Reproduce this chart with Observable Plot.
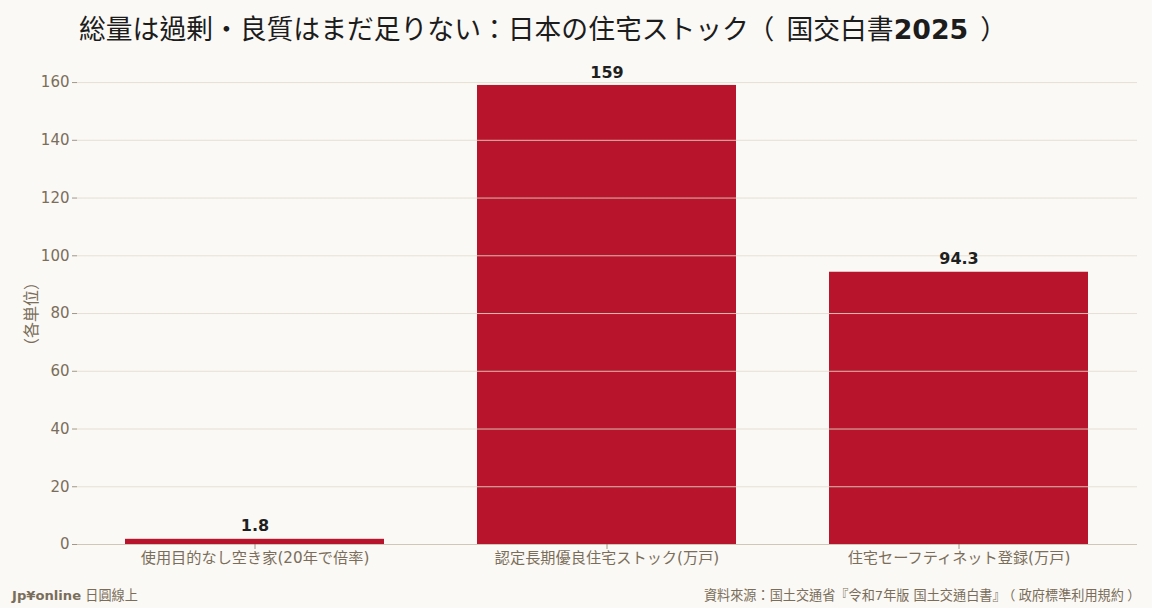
<!DOCTYPE html>
<html><head><meta charset="utf-8">
<script src="https://cdn.jsdelivr.net/npm/d3@7"></script>
<script src="https://cdn.jsdelivr.net/npm/@observablehq/plot@0.6"></script>
<style>
html,body{margin:0;padding:0;background:#faf9f5;}
body{position:relative;width:1152px;height:608px;overflow:hidden;font-family:"DejaVu Sans","Noto Sans CJK TC",sans-serif;}
#title{height:56px;line-height:56px;padding-left:79px;font-size:26.8px;color:#1c1c1c;font-family:"Noto Sans CJK TC","DejaVu Sans",sans-serif;white-space:nowrap;}
#title b{font-family:"DejaVu Sans",sans-serif;font-weight:bold;}
#chart{height:524px;}
#ylabel{position:absolute;left:30px;top:314px;transform:translate(-50%,-50%) rotate(-90deg);font-size:16px;color:#7a6e5a;font-family:"Noto Sans CJK TC",sans-serif;white-space:nowrap;line-height:1;}
#footer{position:relative;height:28px;font-size:13.15px;color:#7a6e5a;font-family:"DejaVu Sans","Noto Sans CJK TC",sans-serif;}
#footer .l{position:absolute;left:12px;top:5px;white-space:nowrap;}
#footer .r{position:absolute;right:15px;top:5px;white-space:nowrap;}
.nt{font-feature-settings:"chws" 0, "halt" 0, "vchw" 0;}
#title .po{display:inline-block;width:1.4em;text-indent:-0.05em;}
#title .pc{display:inline-block;width:1.4em;text-indent:0.45em;}
#footer .po{display:inline-block;width:1em;text-indent:-0.25em;}
#footer .pc{display:inline-block;width:1em;text-indent:0.25em;}
</style></head>
<body>
<div id="title" class="nt"></div>
<div id="chart"></div>
<div id="ylabel" class="nt"></div>
<div id="footer"><span class="l"></span><span class="r nt"></span></div>
<script>
const titleText = "総量は過剰・良質はまだ足りない：日本の住宅ストック（国交白書2025）";
const titleBold = "2025";
const categories = ["使用目的なし空き家(20年で倍率)", "認定長期優良住宅ストック(万戸)", "住宅セーフティネット登録(万戸)"];
const values = [1.8, 159, 94.3];
const valueLabels = ["1.8", "159", "94.3"];
const yTicks = [0, 20, 40, 60, 80, 100, 120, 140, 160];
const yLabel = "（各単位）";
const brandBold = "Jp¥online";
const brandRest = " 日圓線上";
const sourceText = "資料來源：国土交通省『令和7年版 国土交通白書』（政府標準利用規約）";

function esc(s) { return s.replace(/&/g, "&amp;").replace(/</g, "&lt;"); }
function fw(s) {
  return esc(s)
    .replace(/（/g, '<span class="po">（</span>')
    .replace(/）/g, '<span class="pc">）</span>');
}

document.getElementById("title").innerHTML = fw(titleText).replace(titleBold, "<b>" + titleBold + "</b>");
document.getElementById("ylabel").textContent = yLabel;
document.querySelector("#footer .l").innerHTML = "<b>" + esc(brandBold) + "</b>" + esc(brandRest);
document.querySelector("#footer .r").innerHTML = fw(sourceText);

const data = categories.map((c, i) => ({category: c, value: values[i], label: valueLabels[i]}));
const axisColor = "#7a6e5a";

const chart = Plot.plot({
  width: 1152,
  height: 524,
  marginLeft: 77,
  marginRight: 15,
  marginTop: 6,
  marginBottom: 36,
  style: {background: "transparent", fontFamily: "'DejaVu Sans','Noto Sans CJK TC',sans-serif", fontSize: "15px", color: axisColor},
  x: {domain: categories, paddingInner: 0.263, paddingOuter: 0.136, label: null, tickSize: 4},
  y: {domain: [0, d3.max(values) * 1.05], ticks: yTicks, label: null, tickSize: 5},
  marks: [
    Plot.barY(data, {x: "category", y: "value", fill: "#b8152c"}),
    Plot.ruleY(yTicks.filter(d => d > 0), {stroke: "#e2dccd", strokeWidth: 1, strokeOpacity: 0.85}),
    Plot.ruleY([0], {stroke: "#cfc8b8"}),
    Plot.ruleX([0], {frameAnchor: "left", stroke: "#d6d0c2"}),
    Plot.axisY({ticks: yTicks, tickSize: 5, tickPadding: 3, stroke: axisColor, strokeOpacity: 0.7, fill: axisColor, fontSize: 15, label: null}),
    Plot.axisX({tickSize: 5, tickPadding: 3, stroke: axisColor, strokeOpacity: 0.7, fill: axisColor, fontSize: 15.2, label: null}),
    Plot.text(data, {x: "category", y: "value", text: "label", dy: -13, fontWeight: "bold", fontSize: 16, fill: "#1f1f1f"})
  ]
});
document.getElementById("chart").appendChild(chart);
</script>
</body></html>
